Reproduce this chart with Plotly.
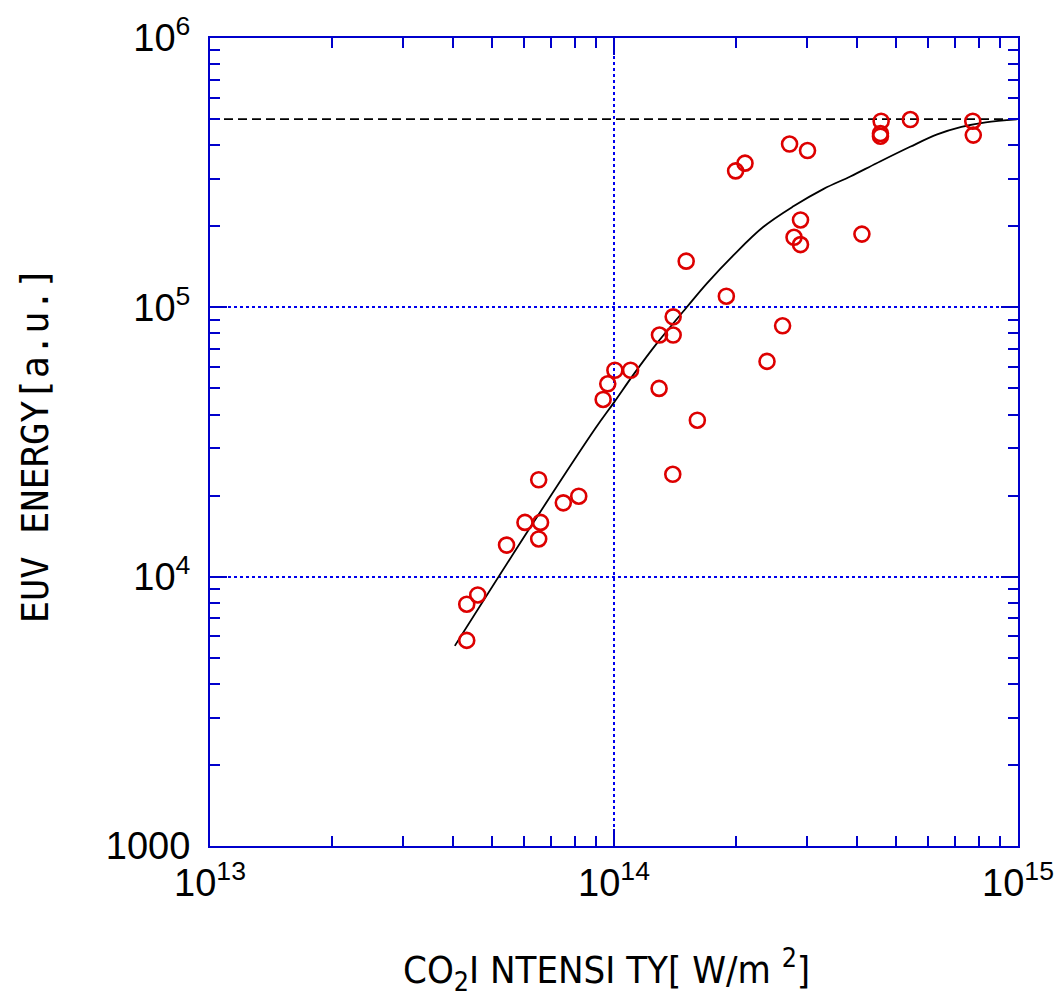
import plotly.graph_objects as go

# Measured EUV output vs. CO2 laser intensity
co2_intensity = [
    4.32e13, 4.32e13, 4.60e13, 5.42e13, 6.02e13, 6.58e13, 6.51e13, 6.51e13,
    7.49e13, 8.18e13, 9.40e13, 9.65e13, 1.005e14, 1.099e14, 1.293e14, 1.608e14,
    1.398e14, 1.296e14, 1.401e14, 1.401e14, 1.509e14, 1.897e14, 2.614e14, 2.392e14,
    2.00e14, 2.11e14, 2.72e14, 3.013e14, 2.895e14, 2.79e14, 2.895e14, 4.108e14,
    4.584e14, 4.566e14, 4.566e14, 5.415e14, 7.727e14, 7.75e14,
]
euv_energy = [
    5.8e3, 7.9e3, 8.55e3, 1.31e4, 1.59e4, 1.59e4, 1.38e4, 2.29e4,
    1.88e4, 1.99e4, 4.55e4, 5.2e4, 5.84e4, 5.84e4, 5.0e4, 3.81e4,
    2.40e4, 7.89e4, 7.89e4, 9.22e4, 1.484e5, 1.10e5, 8.54e4, 6.3e4,
    3.21e5, 3.43e5, 4.04e5, 3.82e5, 2.11e5, 1.82e5, 1.71e5, 1.87e5,
    4.91e5, 4.42e5, 4.32e5, 4.98e5, 4.91e5, 4.36e5,
]

# Fitted trend curve (log10 coordinates)
curve_log_x = [13.606, 13.794, 13.954, 14.001, 14.049, 14.107, 14.181, 14.230,
               14.296, 14.370, 14.444, 14.519, 14.585, 14.650, 14.733, 14.800,
               14.860, 14.920, 14.997]
curve_log_y = [3.743, 4.186, 4.551, 4.649, 4.752, 4.868, 5.002, 5.089,
               5.194, 5.299, 5.375, 5.440, 5.486, 5.535, 5.596, 5.642,
               5.670, 5.687, 5.698]
curve_x = [10 ** v for v in curve_log_x]
curve_y = [10 ** v for v in curve_log_y]

# Saturation level
saturation_level = 5e5
x_span = [1e13, 1e15]

x_tick_vals = [1e13, 1e14, 1e15]
x_tick_text = ["10<sup>13</sup>", "10<sup>14</sup>", "10<sup>15</sup>"]
y_tick_vals = [1e3, 1e4, 1e5, 1e6]
y_tick_text = ["1000", "10<sup>4</sup>", "10<sup>5</sup>", "10<sup>6</sup>"]

AXIS_BLUE = "#0000cc"
GRID_BLUE = "#0000ee"

x_minor = [m * 10 ** e for e in (13, 14) for m in range(2, 10)]
y_minor = [m * 10 ** e for e in (3, 4, 5) for m in range(2, 10)]

fig = go.Figure()

fig.add_trace(go.Scatter(
    x=x_span, y=[saturation_level, saturation_level], mode="lines",
    line=dict(color="black", width=1.6, dash="9px,5px"),
    hoverinfo="skip", showlegend=False,
))
fig.add_trace(go.Scatter(
    x=curve_x, y=curve_y, mode="lines", line_shape="spline",
    line=dict(color="black", width=1.8), showlegend=False,
))
fig.add_trace(go.Scatter(
    x=co2_intensity, y=euv_energy, mode="markers",
    marker=dict(symbol="circle-open", size=15, color="#dd0000",
                line=dict(color="#dd0000", width=2.6)),
    showlegend=False,
))

tick_font = dict(family="Liberation Sans, Arial, sans-serif", size=38, color="black")

common = dict(
    type="log", tickfont=tick_font, automargin=False,
    ticks="inside", ticklen=17, tickwidth=2, tickcolor=AXIS_BLUE,
    showline=True, linecolor=AXIS_BLUE, linewidth=2, mirror="ticks",
    showgrid=True, gridcolor=GRID_BLUE, gridwidth=1.5, griddash="dot",
    zeroline=False,
)

fig.update_xaxes(
    range=[13, 15], tickvals=x_tick_vals, ticktext=x_tick_text,
    ticklabelstandoff=2,
    minor=dict(tickvals=x_minor, ticks="inside", ticklen=10, tickwidth=2,
               tickcolor=AXIS_BLUE, showgrid=False),
    **common,
)
fig.update_yaxes(
    range=[3, 6], tickvals=y_tick_vals, ticktext=y_tick_text,
    ticklabelstandoff=10,
    minor=dict(tickvals=y_minor, ticks="inside", ticklen=10, tickwidth=2,
               tickcolor=AXIS_BLUE, showgrid=False),
    **common,
)

fig.update_layout(
    width=1055, height=998,
    margin=dict(l=210, r=37, t=38, b=152),
    paper_bgcolor="white", plot_bgcolor="white",
    annotations=[
        dict(text="CO<sub>2</sub>I NTENSI TY[ W/m <sup>2</sup>]",
             xref="paper", yref="paper", x=0.491, y=-0.153,
             xanchor="center", yanchor="middle", showarrow=False,
             font=dict(family="DejaVu Sans Condensed, Liberation Sans Narrow, Liberation Sans, sans-serif",
                       size=38, color="black")),
        dict(text="EUV ENERGY[a.u.]",
             xref="paper", yref="paper", x=-0.2166, y=0.496,
             xanchor="center", yanchor="middle", textangle=-90, showarrow=False,
             font=dict(family="DejaVu Sans Mono, Liberation Mono, monospace",
                       size=37, color="black")),
    ],
)

fig.write_html("out.html")
